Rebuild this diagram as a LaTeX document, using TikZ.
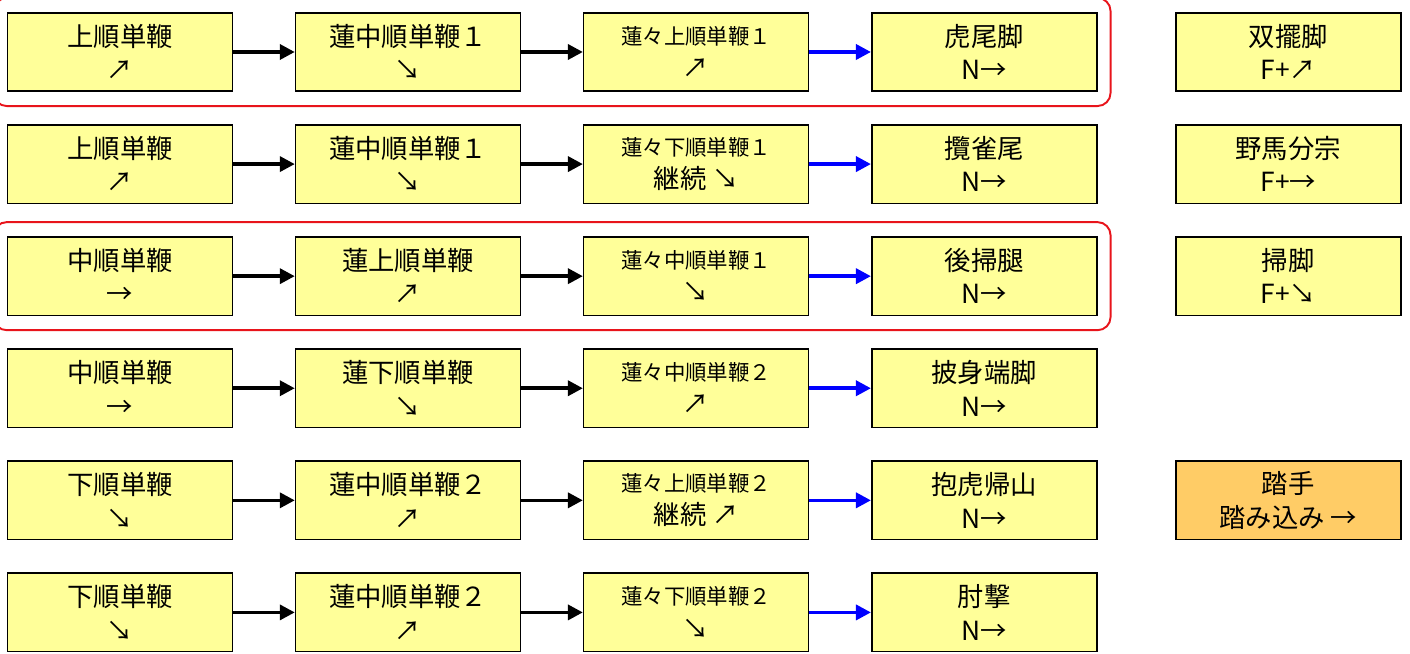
\documentclass[tikz,border=0pt]{standalone}
\usepackage{fontspec}
\setmainfont{Noto Sans CJK JP}
\usepackage{xcolor}
\definecolor{cMove}{HTML}{FFFF99}
\definecolor{cKey}{HTML}{FFCC66}
\definecolor{cLine}{HTML}{000000}
\definecolor{cKick}{HTML}{0000FF}
\definecolor{cFrame}{HTML}{E8141B}
\usepackage{tikz}
\usetikzlibrary{positioning,arrows.meta,fit}
\newcommand{\subname}[1]{{\fontsize{12.2pt}{14pt}\selectfont #1}}
\tikzset{
  move-box/.style={draw=cLine,line width=0.9pt,fill=cMove,
    minimum height=15.7mm,minimum width=45mm,align=center,
    font=\fontsize{15pt}{19pt}\selectfont},
  move-key/.style={fill=cKey},
  arrow-next/.style={-{Triangle[length=3mm,width=3mm]},line width=2pt,draw=cLine},
  arrow-kick/.style={-{Triangle[length=3mm,width=3mm]},line width=2pt,draw=cKick},
  group-frame/.style={draw=cFrame,line width=1.1pt,rounded corners=2.6mm,
    inner xsep=2.6mm,inner ysep=2.8mm},
}

\begin{document}
\begin{tikzpicture}[node distance=6.4mm and 12.3mm]
  \useasboundingbox (0,0) rectangle (28.2,-13.08);

  % row 1
  \node[move-box] (a1) at (2.40,-1.04) {上順単鞭\\↗};
  \node[move-box,right=of a1] (b1) {蓮中順単鞭１\\↘};
  \node[move-box,right=of b1] (c1) {\subname{蓮々上順単鞭１}\\↗};
  \node[move-box,right=of c1] (d1) {虎尾脚\\N→};
  \node[move-box,right=15.5mm of d1] (e1) {双擺脚\\F+↗};

  % row 2
  \node[move-box,below=of a1] (a2) {上順単鞭\\↗};
  \node[move-box,right=of a2] (b2) {蓮中順単鞭１\\↘};
  \node[move-box,right=of b2] (c2) {\subname{蓮々下順単鞭１}\\継続 ↘};
  \node[move-box,right=of c2] (d2) {攬雀尾\\N→};
  \node[move-box,right=15.5mm of d2] (e2) {野馬分宗\\F+→};

  % row 3
  \node[move-box,below=of a2] (a3) {中順単鞭\\→};
  \node[move-box,right=of a3] (b3) {蓮上順単鞭\\↗};
  \node[move-box,right=of b3] (c3) {\subname{蓮々中順単鞭１}\\↘};
  \node[move-box,right=of c3] (d3) {後掃腿\\N→};
  \node[move-box,right=15.5mm of d3] (e3) {掃脚\\F+↘};

  % row 4
  \node[move-box,below=of a3] (a4) {中順単鞭\\→};
  \node[move-box,right=of a4] (b4) {蓮下順単鞭\\↘};
  \node[move-box,right=of b4] (c4) {\subname{蓮々中順単鞭２}\\↗};
  \node[move-box,right=of c4] (d4) {披身端脚\\N→};

  % row 5
  \node[move-box,below=of a4] (a5) {下順単鞭\\↘};
  \node[move-box,right=of a5] (b5) {蓮中順単鞭２\\↗};
  \node[move-box,right=of b5] (c5) {\subname{蓮々上順単鞭２}\\継続 ↗};
  \node[move-box,right=of c5] (d5) {抱虎帰山\\N→};
  \node[move-box,move-key,right=15.5mm of d5] (e5) {踏手\\踏み込み →};

  % row 6
  \node[move-box,below=of a5] (a6) {下順単鞭\\↘};
  \node[move-box,right=of a6] (b6) {蓮中順単鞭２\\↗};
  \node[move-box,right=of b6] (c6) {\subname{蓮々下順単鞭２}\\↘};
  \node[move-box,right=of c6] (d6) {肘撃\\N→};

  \foreach \r in {1,...,6} {
    \draw[arrow-next] (a\r) -- (b\r);
    \draw[arrow-next] (b\r) -- (c\r);
    \draw[arrow-kick] (c\r) -- (d\r);
  }

  \node[group-frame,fit=(a1)(d1)] (g1) {};
  \node[group-frame,fit=(a3)(d3)] (g3) {};
\end{tikzpicture}
\end{document}
